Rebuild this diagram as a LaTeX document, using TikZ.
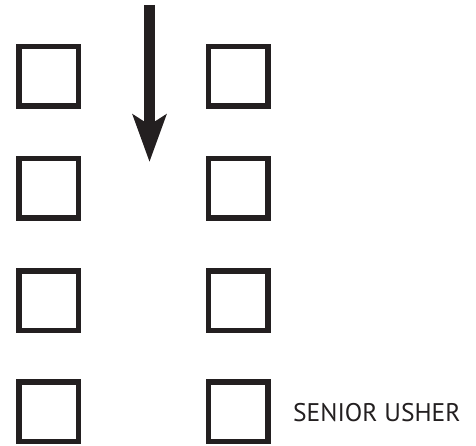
\documentclass[tikz,border=0pt]{standalone}
\usepackage{fontspec}
\setmainfont{PT Sans}
\usetikzlibrary{arrows.meta}
\definecolor{ink}{HTML}{231F20}
\begin{document}
\begin{tikzpicture}[x=1pt,y=1pt,
  seat/.style={draw=ink,line width=5.5pt,minimum size=59.5pt,inner sep=0pt}]
\useasboundingbox (0,0) rectangle (476,-446);
\node[seat] (l1) at (48.5,-76.5) {};
\node[seat] (l2) at (48.5,-188.5) {};
\node[seat] (l3) at (48.5,-300.5) {};
\node[seat] (l4) at (48.5,-411.5) {};
\node[seat] (r1) at (238,-76.5) {};
\node[seat] (r2) at (238,-188.5) {};
\node[seat] (r3) at (238,-300.5) {};
\node[seat] (r4) at (238,-411.5) {};
\node[anchor=base west,inner sep=0pt,font=\fontsize{25.5}{26}\selectfont,text=ink] (lab) at (293,-421) {SENIOR USHER};
\coordinate (atop) at (149.5,-5);
\coordinate (atip) at (149.5,-162);
\draw[ink,line width=11pt,-{Stealth[length=47pt,width=33pt,inset=10pt]}] (atop) -- (atip);
\end{tikzpicture}
\end{document}
